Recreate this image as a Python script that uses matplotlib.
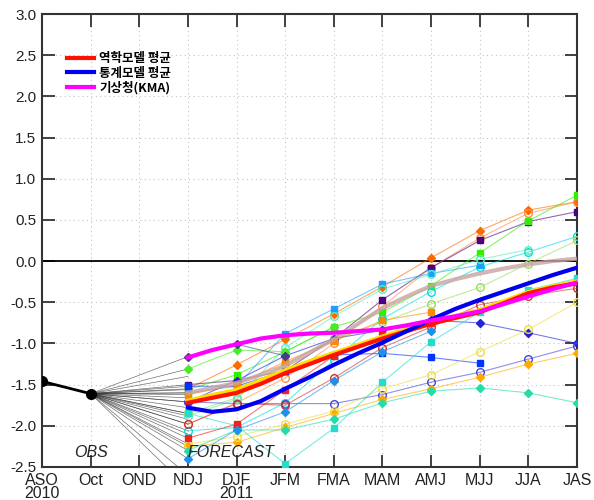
import matplotlib
matplotlib.use("Agg")
import matplotlib.pyplot as plt
import numpy as np

nan = np.nan
plt.rcParams['font.family'] = ['Liberation Sans', 'DejaVu Sans']

# seasons on the x axis
seasons = ["ASO", "Oct", "OND", "NDJ", "DJF", "JFM", "FMA", "MAM", "AMJ", "MJJ", "JJA", "JAS"]
years = {0: "2010", 4: "2011"}

# observed (ASO, Oct)
obs_x = [0, 1]
obs_vals = [-1.46, -1.61]

# forecast seasons NDJ..JAS -> x = 3..11
fc_x = np.arange(3, 12)

# individual model forecasts (NDJ .. JAS)
model_vals = [
    [-1.55, -1.26, -0.95, -0.64, -0.31, 0.04, 0.37, 0.62, 0.72],   # orange diamond
    [-1.98, -1.72, -1.42, -1.00, -0.55, -0.08, 0.28, 0.58, 0.72],  # orange circle
    [-1.50, -1.45, -1.33, -0.94, -0.47, -0.08, 0.25, 0.48, 0.60],  # indigo square
    [-1.56, -1.38, -1.10, -0.80, -0.62, -0.30, 0.10, 0.49, 0.80],  # lime square
    [-2.06, -2.02, -1.72, -1.20, -0.70, -0.37, -0.07, 0.11, 0.30], # cyan circle
    [-1.85, -1.66, -1.25, -0.95, -0.74, -0.52, -0.32, -0.03, 0.25],# yellowgreen circle
    [-1.60, -1.52, -0.88, -0.58, -0.28, -0.15, -0.05, nan, nan],   # sky blue square
    [-1.88, -1.68, -1.05, -0.67, -0.34, -0.16, 0.02, 0.14, nan],   # mint circle
    [-1.71, -1.45, -1.15, -0.94, -0.84, -0.72, -0.75, -0.87, -1.00],  # blue diamond
    [-1.52, -1.52, -1.33, -1.14, -1.12, -1.17, -1.24, nan, nan],   # blue square
    [-1.71, -1.73, -1.73, -1.73, -1.62, -1.47, -1.35, -1.19, -1.03],  # blue circle
    [-2.25, -2.20, -2.02, -1.85, -1.68, -1.55, -1.41, -1.25, -1.12],  # gold diamond
    [-2.22, -2.13, -1.98, -1.82, -1.55, -1.38, -1.10, -0.83, -0.50],  # yellow circle
    [-2.30, -2.05, -2.05, -1.92, -1.72, -1.58, -1.54, -1.60, -1.72],  # aquamarine diamond
    [-1.85, -2.00, -2.46, -2.03, -1.47, -0.98, -0.62, -0.35, -0.21],  # turquoise square
    [-2.15, -1.98, -1.56, -1.15, -0.90, -0.75, nan, nan, nan],     # red square
    [-1.98, -1.73, -1.75, -1.42, -1.05, -0.80, -0.53, -0.42, -0.33],  # brown circle
    [-2.40, -2.05, -1.83, -1.45, -1.10, -0.85, nan, nan, nan],     # steelblue diamond
    [-1.62, -1.50, -1.22, -0.97, -0.72, -0.62, nan, nan, nan],     # orange square
    [-1.31, -1.08, -1.10, -0.80, nan, nan, nan, nan, nan],         # lime diamond
    [-1.16, -1.01, -1.15, nan, nan, nan, nan, nan, nan],           # slate diamond
]
model_colors = ["#ff6a00", "#ff8c40", "#4b0082", "#33ee00", "#00dddd", "#99dd55",
                "#1e9fff", "#55eebb", "#2222dd", "#0033ff", "#4444dd", "#ffaa00",
                "#eedd44", "#22ddaa", "#22ddcc", "#ee2222", "#cc3333", "#1f8fee",
                "#ff8800", "#44ee22", "#483d8b"]
model_markers = ["D", "o", "s", "s", "o", "o", "s", "o", "D", "s", "o", "D",
                 "o", "D", "s", "s", "o", "D", "s", "D", "D"]

# extra members that only show as grey lines from Oct to NDJ
extra_ndj = [-1.40, -1.60, -1.66, -1.78, -1.92, -2.10, -2.60, -2.75]

# smooth averages, read at half-season steps from NDJ to JAS
avg_x = np.arange(3, 11.5, 0.5)
dyn_avg = [-1.72, -1.66, -1.60, -1.49, -1.36, -1.25, -1.14, -1.04, -0.94, -0.85,
           -0.76, -0.69, -0.62, -0.51, -0.39, -0.32, -0.27]
stat_avg = [-1.78, -1.83, -1.80, -1.70, -1.55, -1.41, -1.26, -1.12, -0.99, -0.85,
            -0.71, -0.58, -0.47, -0.37, -0.27, -0.17, -0.08]
kma = [-1.17, -1.08, -1.01, -0.94, -0.90, -0.88, -0.87, -0.85, -0.83, -0.78,
       -0.72, -0.67, -0.61, -0.52, -0.43, -0.34, -0.26]
yellow_avg = [-1.70, -1.63, -1.57, -1.45, -1.33, -1.22, -1.12, -1.02, -0.92, -0.83,
              -0.74, -0.67, -0.60, -0.49, -0.38, -0.31, -0.25]
all_avg = [-1.60, -1.54, -1.48, -1.38, -1.27, -1.11, -0.95, -0.76, -0.57, -0.43,
           -0.30, -0.22, -0.15, -0.09, -0.04, 0.00, 0.03]

legend_labels = ["역학모델 평균", "통계모델 평균", "기상청(KMA)"]

fig = plt.figure(figsize=(5.94, 5.0), dpi=100)
ax = fig.add_axes([0.0707, 0.066, 0.9007, 0.906])

ax.set_xlim(0, 11)
ax.set_ylim(-2.5, 3.0)
ax.grid(True, color="#c4c4c4", linestyle=(0, (1, 3)), linewidth=0.8)
ax.axhline(0, color="black", lw=1.3, zorder=2)

# grey spaghetti lines from the last observation
ndj_all = [v[0] for v in model_vals] + extra_ndj
for v in ndj_all:
    ax.plot([1, 3], [obs_vals[-1], v], color="#333333", lw=0.5, alpha=0.7, zorder=3)

for vals, c, m in zip(model_vals, model_colors, model_markers):
    vals = np.array(vals)
    ax.plot(fc_x, vals, color=c, lw=0.8, alpha=0.6, zorder=4)
    if m == "o":
        ax.plot(fc_x, vals, ls="none", marker=m, ms=5.5, mfc="none", mec=c, mew=1.0, zorder=5)
    else:
        ax.plot(fc_x, vals, ls="none", marker=m, ms=4.5, mfc=c, mec=c, zorder=5)

ax.plot(avg_x, all_avg, color="#c9a3a3", lw=3, alpha=0.8, zorder=6)
ax.plot(avg_x, yellow_avg, color="#ffdd00", lw=3.5, zorder=6)
l1, = ax.plot(avg_x, dyn_avg, color="#ff1100", lw=3, zorder=7)
l2, = ax.plot(avg_x, stat_avg, color="#0000ee", lw=3, zorder=7)
l3, = ax.plot(avg_x, kma, color="#ff00ff", lw=3, zorder=8)

ax.plot(obs_x, obs_vals, color="black", lw=2, marker="o", ms=7, zorder=9)

ax.text(1, -2.33, "OBS", style="italic", fontsize=11.5, ha="center", va="center",
        color="#222222", zorder=10)
ax.text(3.89, -2.33, "FORECAST", style="italic", fontsize=11.5, ha="center", va="center",
        color="#222222", zorder=10)

ax.set_xticks(range(len(seasons)))
ax.set_xticklabels([s + ("\n" + years[i] if i in years else "") for i, s in enumerate(seasons)],
                   fontsize=11.5, va="top", linespacing=0.88)
ax.set_yticks(np.arange(-2.5, 3.01, 0.5))
ax.set_yticklabels(["%.1f" % t for t in np.arange(-2.5, 3.01, 0.5)], fontsize=11)
ax.tick_params(direction="in", length=9, width=1.3, color="#333333",
               top=True, right=True, labelcolor="#222222", pad=4)
for s in ax.spines.values():
    s.set_color("#333333")
    s.set_linewidth(1.5)

leg = ax.legend([l1, l2, l3], legend_labels, loc="upper left", bbox_to_anchor=(0.025, 0.94),
                frameon=False, handlelength=2.2, handletextpad=0.4, labelspacing=0.1,
                prop={"family": ["Noto Sans CJK KR"], "weight": "bold", "size": 9})

fig.savefig("out.png", dpi=100)
